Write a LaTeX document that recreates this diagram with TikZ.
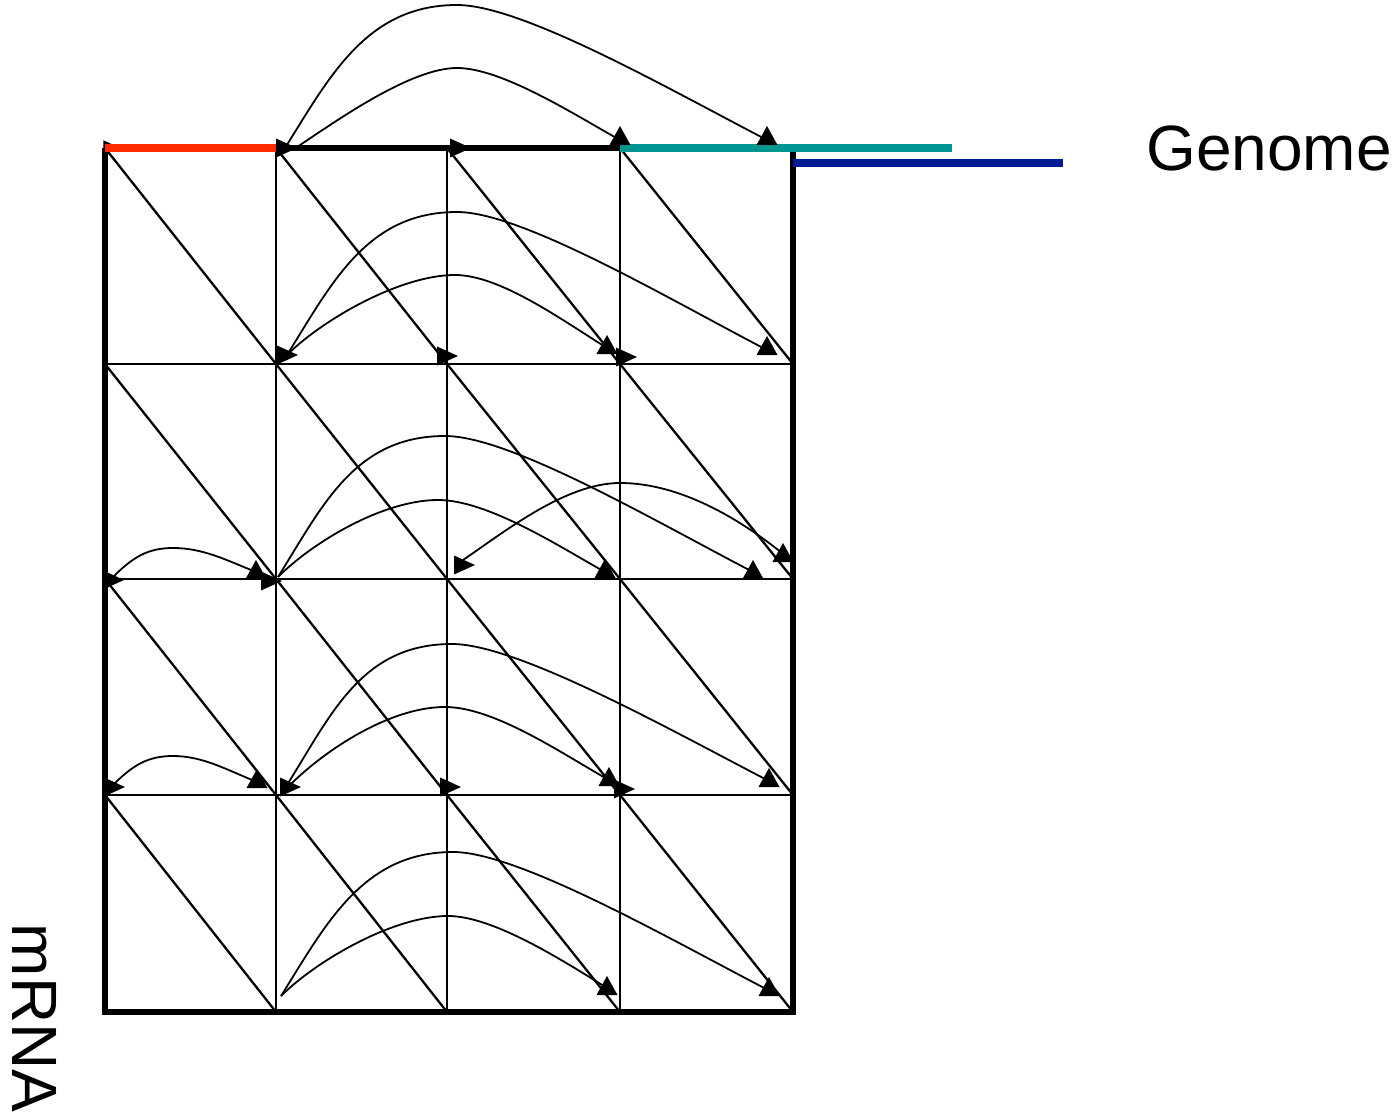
\documentclass[tikz,border=0pt]{standalone}
\usepackage{fontspec}
\setmainfont{Liberation Sans}
\definecolor{GenomeRed}{HTML}{FF2A00}
\definecolor{GenomeTeal}{HTML}{009591}
\definecolor{GenomeBlue}{HTML}{001A94}
\tikzset{
  cell line/.style={line width=2.3pt},
  border line/.style={line width=5.5pt},
  genome seg/.style={line width=8.5pt},
  hop arc/.style={line width=1.8pt},
  axis label/.style={font=\fontsize{64}{72}\selectfont},
  rhead/.pic={\fill (-21,-9.5) -- (0,0) -- (-21,9.5) -- cycle;},
  uhead/.pic={\fill (-10.5,0) -- (0,-19) -- (10.5,0) -- cycle;},
}
\begin{document}
\begin{tikzpicture}[x=1pt, y=-1pt]
  \useasboundingbox (0,0) rectangle (1395,1115);
  % grid corners
  \foreach \i/\x in {0/105,1/276,2/447,3/620,4/793}
    \foreach \j/\y in {0/148,1/364,2/579,3/795,4/1012}
      \coordinate (g\i\j) at (\x,\y);
  % cells and diagonals
  \foreach \i in {1,2,3} {
    \draw[cell line] (g\i0) -- (g\i4);
    \draw[cell line] (g0\i) -- (g4\i);
  }
  \foreach \i/\k in {0/1,1/2,2/3,3/4}
    \foreach \j/\l in {0/1,1/2,2/3,3/4}
      \draw[cell line] (g\i\j) -- (g\k\l);
  \draw[border line] (g00) -- (g04) -- (g44) -- (g40);
  \pic[scale=0.6] at (116,146) {rhead};
  % genome segments
  \draw[border line] (g10) -- (g30);
  \draw[genome seg, GenomeRed] (g00) -- (g10);
  \coordinate (tealend) at (952,148);
  \draw[genome seg, GenomeTeal] (g30) -- (tealend);
  \coordinate (blueA) at (793,163);
  \coordinate (blueB) at (1063,163);
  \draw[genome seg, GenomeBlue] (blueA) -- (blueB);
  % top hops
  \draw[hop arc] ([shift={(9,0)}]g10) .. controls +(45,-72) and +(-90,0) .. (457,5)
    .. controls +(65,0) and +(-100,-52) .. ([shift={(-26,-8)}]g40);
  \draw[hop arc] ([shift={(21,-1)}]g10) .. controls +(38,-25) and +(-47,0) .. (457,68)
    .. controls +(45,0) and +(-45,-25) .. ([shift={(0,-8)}]g30);
  % row 1
  \draw[hop arc] ([shift={(11,-9)}]g11) .. controls +(45,-72) and +(-90,0) .. (457,212)
    .. controls +(65,0) and +(-100,-52) .. ([shift={(-26,-14)}]g41);
  \draw[hop arc] ([shift={(11,-9)}]g11) .. controls +(35,-35) and +(-55,0) .. (455,275)
    .. controls +(45,0) and +(-45,-28) .. ([shift={(-13,-16)}]g31);
  % row 2
  \draw[hop arc] ([shift={(8,-2)}]g02) .. controls +(20,-20) and +(-25,0) .. (173,548)
    .. controls +(30,0) and +(-30,-12) .. ([shift={(-20,-7)}]g12);
  \draw[hop arc] ([shift={(2,-2)}]g12) .. controls +(45,-72) and +(-90,0) .. (445,436)
    .. controls +(65,0) and +(-100,-52) .. ([shift={(-40,-7)}]g42);
  \draw[hop arc] ([shift={(2,-2)}]g12) .. controls +(35,-35) and +(-55,0) .. (438,500)
    .. controls +(50,0) and +(-45,-25) .. ([shift={(-15,-7)}]g32);
  \draw[hop arc] ([shift={(16,-19)}]g22) .. controls +(40,-27) and +(-55,0) .. (620,483)
    .. controls +(65,0) and +(-35,-28) .. ([shift={(-11,-26)}]g42);
  % row 3
  \draw[hop arc] ([shift={(8,-10)}]g03) .. controls +(20,-20) and +(-25,0) .. (173,756)
    .. controls +(30,0) and +(-30,-12) .. ([shift={(-19,-13)}]g13);
  \draw[hop arc] ([shift={(11,-10)}]g13) .. controls +(45,-72) and +(-90,0) .. (452,644)
    .. controls +(65,0) and +(-100,-52) .. ([shift={(-26,-15)}]g43);
  \draw[hop arc] ([shift={(14,-10)}]g13) .. controls +(35,-35) and +(-55,0) .. (445,707)
    .. controls +(50,0) and +(-45,-25) .. ([shift={(-11,-15)}]g33);
  % row 4
  \draw[hop arc] ([shift={(5,-16)}]g14) .. controls +(45,-72) and +(-90,0) .. (453,852)
    .. controls +(65,0) and +(-100,-52) .. ([shift={(-25,-22)}]g44);
  \draw[hop arc] ([shift={(5,-16)}]g14) .. controls +(35,-35) and +(-55,0) .. (448,916)
    .. controls +(45,0) and +(-45,-28) .. ([shift={(-13,-24)}]g34);
  % heads
  \foreach \x/\y in {297/148,471/148,298/355,458/356,637/357,124/580,282/581,
                     475/565,125/787,301/787,461/787,635/789}
    \pic at (\x,\y) {rhead};
  \foreach \x/\y in {620/145,767/145,607/354,767/355,256/579,605/578,753/579,
                     783/562,257/788,609/786,769/787,607/995,769/996}
    \pic at (\x,\y) {uhead};
  % labels
  \node[axis label] (genome) at (1269,148) {Genome};
  \node[axis label, rotate=-90] (mrna) at (35,1018) {mRNA};
\end{tikzpicture}
\end{document}
